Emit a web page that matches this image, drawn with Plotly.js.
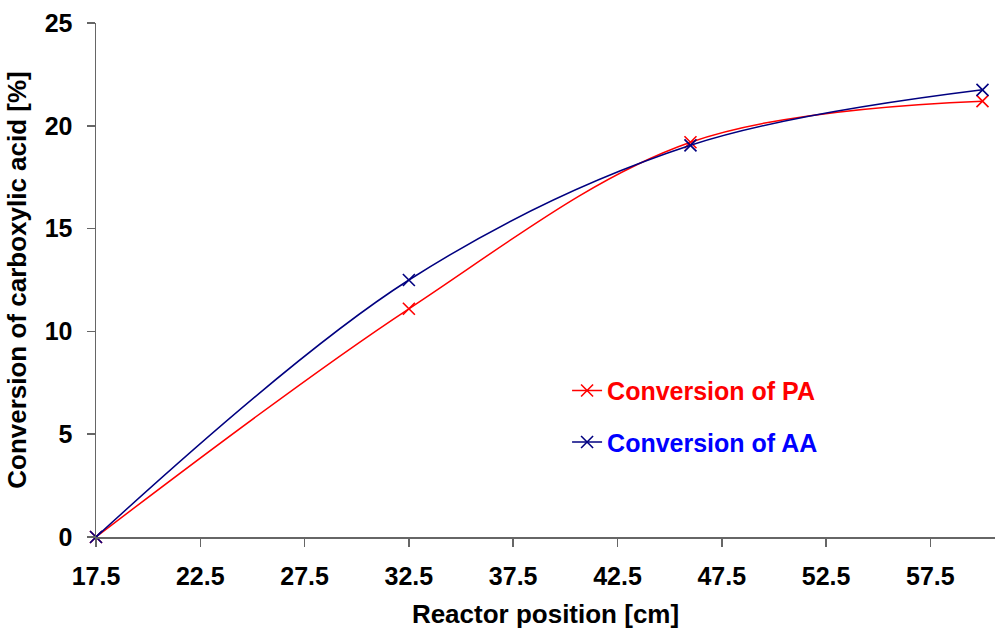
<!DOCTYPE html>
<html>
<head>
<meta charset="utf-8">
<script src="https://cdn.plot.ly/plotly-3.0.1.min.js"></script>
<style>html,body{margin:0;padding:0;background:#fff;}#chart{width:995px;height:633px;}</style>
</head>
<body>
<div id="chart"></div>
<script>
const positions = [17.5, 32.5, 46, 60];
const convPA = [0, 11.1, 19.2, 21.2];
const convAA = [0, 12.5, 19.05, 21.75];
const xTicks = [17.5, 22.5, 27.5, 32.5, 37.5, 42.5, 47.5, 52.5, 57.5];
const yTicks = [0, 5, 10, 15, 20, 25];

const FONT = 'Liberation Sans, Arial, sans-serif';

const traces = [
  {
    x: positions, y: convPA, type: 'scatter', mode: 'lines+markers',
    name: '<span style="color:#ff0000">Conversion of PA</span>',
    legendgroup: 'pa', cliponaxis: false,
    line: {color: '#ff0000', width: 1.5, shape: 'spline', smoothing: 1},
    marker: {symbol: 'x-thin', size: 12, line: {color: '#ff0000', width: 1.6}}
  },
  {
    x: positions, y: convAA, type: 'scatter', mode: 'lines+markers',
    name: '<span style="color:#0000ff">Conversion of AA</span>',
    legendgroup: 'aa', cliponaxis: false,
    line: {color: '#000080', width: 1.5, shape: 'spline', smoothing: 1},
    marker: {symbol: 'x-thin', size: 12, line: {color: '#000080', width: 1.6}}
  }
];

const layout = {
  width: 995, height: 633,
  margin: {l: 96, r: 0, t: 23, b: 96},
  paper_bgcolor: '#ffffff', plot_bgcolor: '#ffffff',
  font: {family: FONT, size: 22, color: '#000'},
  showlegend: true,
  legend: {
    x: 0.524, y: 0.235, xanchor: 'left', yanchor: 'middle',
    bgcolor: 'rgba(0,0,0,0)', borderwidth: 0,
    traceorder: 'grouped', tracegroupgap: 16,
    font: {family: FONT, size: 25, weight: 'bold'}
  },
  xaxis: {
    range: [17.5, 60.6], tickvals: xTicks, ticktext: xTicks.map(v => v.toFixed(1)),
    showgrid: false, zeroline: false,
    showline: true, linecolor: '#666', linewidth: 1.5,
    ticks: 'outside', ticklen: 8, tickwidth: 1.5, tickcolor: '#666',
    tickfont: {family: FONT, size: 25, weight: 'bold', color: '#000'},
    ticklabelstandoff: 8,
    title: {text: 'Reactor position [cm]', font: {family: FONT, size: 26, weight: 'bold', color: '#000'}, standoff: 16}
  },
  yaxis: {
    range: [0, 25], tickvals: yTicks,
    showgrid: false, zeroline: false,
    showline: true, linecolor: '#666', linewidth: 1.5,
    ticks: 'outside', ticklen: 8, tickwidth: 1.5, tickcolor: '#666',
    tickfont: {family: FONT, size: 25, weight: 'bold', color: '#000'},
    ticklabelstandoff: 9,
    title: {text: 'Conversion of carboxylic acid [%]', font: {family: FONT, size: 26, weight: 'bold', color: '#000'}, standoff: 10}
  }
};

Plotly.newPlot('chart', traces, layout, {displayModeBar: false, staticPlot: true});
</script>
</body>
</html>
